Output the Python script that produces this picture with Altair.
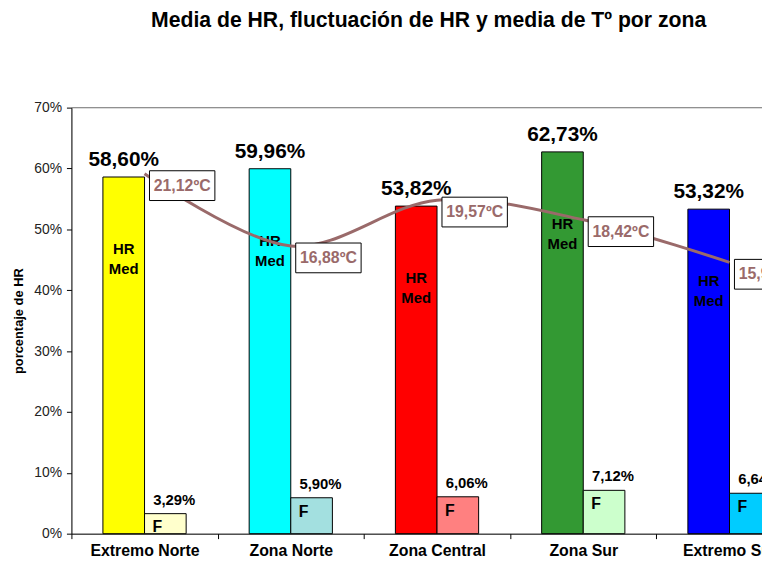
import altair as alt
import pandas as pd

# ---- data ----
zones = ["Extremo Norte", "Zona Norte", "Zona Central", "Zona Sur", "Extremo Sur"]
hr_media = [58.60, 59.96, 53.82, 62.73, 53.32]      # % HR media
hr_fluct = [3.29, 5.90, 6.06, 7.12, 6.64]           # % fluctuación (F)
temp_media = [21.12, 16.88, 19.57, 18.42, 15.92]    # ºC media

# ---- styles ----
hr_colors = ["#FFFF00", "#00FFFF", "#FF0000", "#339933", "#0000FF"]
f_colors = ["#FFFFCC", "#A3E0E0", "#FF8080", "#CCFFCC", "#00CCFF"]
temp_color = "#9A6A6A"
FONT = "Liberation Sans"


def pct(v):
    return f"{v:.2f}".replace(".", ",") + "%"


def deg(v):
    return f"{v:.2f}".replace(".", ",") + "ºC"


rows = []
for z, h, f in zip(zones, hr_media, hr_fluct):
    rows.append({"zone": z, "serie": "HR", "value": h, "key": z + "|HR", "label": pct(h)})
    rows.append({"zone": z, "serie": "F", "value": f, "key": z + "|F", "label": pct(f)})
bars_df = pd.DataFrame(rows)
temp_df = pd.DataFrame({"zone": zones, "temp": temp_media, "label": [deg(t) for t in temp_media]})

color_domain = [z + "|HR" for z in zones] + [z + "|F" for z in zones]
color_range = hr_colors + f_colors

x_enc = alt.X(
    "zone:N",
    sort=zones,
    scale=alt.Scale(range=[0, 738], paddingInner=0, paddingOuter=0),
    axis=alt.Axis(
        title=None, labelAngle=0, labelFontSize=16, labelFontWeight="bold",
        labelColor="black", labelFont=FONT, tickBand="extent", tickSize=5,
        tickColor="black", domainColor="black", labelPadding=4, grid=False,
    ),
)
xoff = alt.XOffset("serie:N", sort=["HR", "F"], scale=alt.Scale(paddingInner=0, paddingOuter=0.757))
y_scale = alt.Scale(domain=[0, 70], nice=False)
y_enc = alt.Y(
    "value:Q",
    scale=y_scale,
    axis=alt.Axis(
        values=list(range(0, 71, 10)), labelExpr="datum.value + '%'",
        title="porcentaje de HR", titleFontSize=13, titleFontWeight="bold",
        titleFont=FONT, titleColor="black", titlePadding=8,
        labelFontSize=14, labelFont=FONT, labelColor="#222222", labelPadding=5,
        tickSize=5, tickColor="black", domainColor="black", grid=False,
    ),
)

base = alt.Chart(bars_df)

bars = base.mark_bar(stroke="black", strokeWidth=1).encode(
    x=x_enc, xOffset=xoff, y=y_enc,
    color=alt.Color("key:N", scale=alt.Scale(domain=color_domain, range=color_range), legend=None),
)

hr_val = base.transform_filter(alt.datum.serie == "HR").mark_text(
    baseline="bottom", dy=-7, fontSize=21, fontWeight="bold", font=FONT, color="black"
).encode(x=x_enc, xOffset=xoff, y=alt.Y("value:Q", scale=y_scale), text="label:N")

hr_in = base.transform_filter(alt.datum.serie == "HR").mark_text(
    baseline="top", dy=66, fontSize=15, fontWeight="bold", font=FONT, color="black",
    lineBreak="\n", lineHeight=20,
).encode(x=x_enc, xOffset=xoff, y=alt.Y("value:Q", scale=y_scale), text=alt.value("HR\nMed"))

f_val = base.transform_filter(alt.datum.serie == "F").mark_text(
    baseline="bottom", dx=9, dy=-6, fontSize=15, fontWeight="bold", font=FONT, color="black"
).encode(x=x_enc, xOffset=xoff, y=alt.Y("value:Q", scale=y_scale), text="label:N")

f_in = base.transform_filter(alt.datum.serie == "F").mark_text(
    baseline="middle", dx=-8, dy=14, fontSize=16, fontWeight="bold", font=FONT, color="black"
).encode(x=x_enc, xOffset=xoff, y=alt.Y("value:Q", scale=y_scale), text=alt.value("F"))

top_rule = alt.Chart(pd.DataFrame({"a": [0]})).mark_rule(color="#808080", strokeWidth=1).encode(
    x=alt.value(0), x2=alt.value(738), y=alt.value(0)
)

left = alt.layer(bars, top_rule, hr_val, hr_in, f_val, f_in)

t_scale = alt.Scale(domain=[0, 25], nice=False)
tbase = alt.Chart(temp_df)
line = tbase.mark_line(color=temp_color, strokeWidth=3, interpolate="cardinal").encode(
    x=x_enc, y=alt.Y("temp:Q", scale=t_scale, axis=None)
)
boxes = tbase.mark_point(
    shape="M-1,-0.455H1V0.455H-1Z", size=66 * 66, filled=True, fill="white",
    stroke="black", strokeWidth=1, opacity=1, xOffset=38, yOffset=12,
).encode(x=x_enc, y=alt.Y("temp:Q", scale=t_scale, axis=None))
ttext = tbase.mark_text(
    dx=38, dy=12, fontSize=16, fontWeight="bold", font=FONT, color=temp_color, baseline="middle"
).encode(x=x_enc, y=alt.Y("temp:Q", scale=t_scale, axis=None), text="label:N")

right = alt.layer(line, boxes, ttext)

chart = alt.layer(left, right).resolve_scale(y="independent").properties(
    width=697,
    height=430,
    autosize=alt.AutoSizeParams(type="none"),
    padding={"left": 64, "top": 98, "right": 0, "bottom": 22},
    title=alt.TitleParams(
        "Media de HR, fluctuación de HR y media de Tº por zona",
        fontSize=21.4, fontWeight="bold", font=FONT, color="black",
        anchor="middle", dx=12, offset=70,
    ),
).configure_view(stroke=None).configure(font=FONT)

chart.save("out.html", embed_options={"renderer": "svg", "actions": False})
